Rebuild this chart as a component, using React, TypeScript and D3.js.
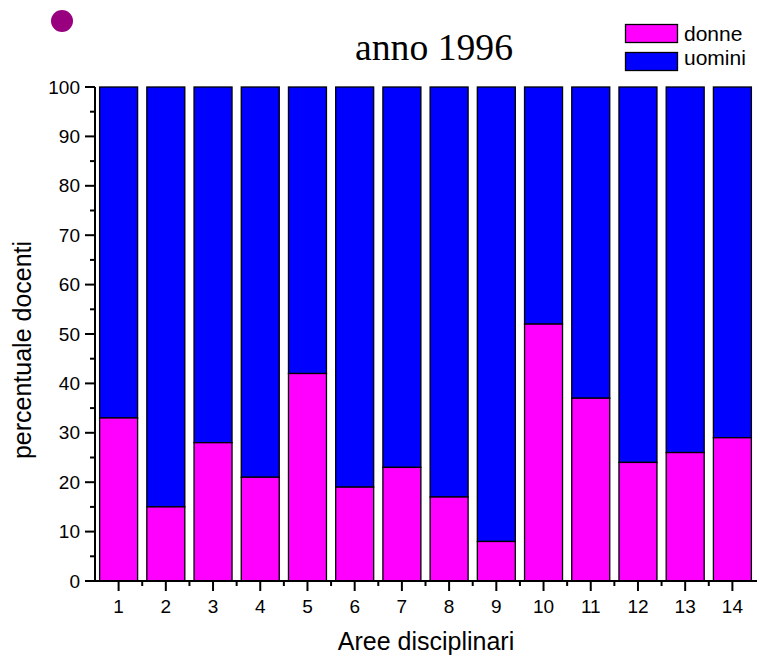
import React from "react";
import * as d3 from "d3";

const categories = [1, 2, 3, 4, 5, 6, 7, 8, 9, 10, 11, 12, 13, 14];
const donne = [33, 15, 28, 21, 42, 19, 23, 17, 8, 52, 37, 24, 26, 29];
const uomini = donne.map((d) => 100 - d);
const yTicks = [0, 10, 20, 30, 40, 50, 60, 70, 80, 90, 100];
const seriesNames = ["donne", "uomini"];
const seriesColors = ["#FF00FF", "#0000FF"];

export default function App() {
  const W = 759, H = 658;
  const x = d3.scaleLinear().domain([0.5, 14.5]).range([95, 756]);
  const y = d3.scaleLinear().domain([0, 100]).range([581, 87]);
  const bw = 38;
  const minorY = d3.range(5, 100, 10);
  const minorX = d3.range(1.5, 14.5, 1);
  const font = "Arial, 'Liberation Sans', sans-serif";
  return (
    <svg width={W} height={H} style={{ position: "absolute", left: 0, top: 0 }}>
      <rect width={W} height={H} fill="#fff" />
      <circle cx={62} cy={21} r={11} fill="#990080" />
      <text x={434} y={60} textAnchor="middle" fontFamily="'Liberation Serif', 'Times New Roman', serif" fontSize={38} textLength={158} lengthAdjust="spacingAndGlyphs">anno 1996</text>
      {seriesNames.map((s, i) => (
        <g key={s}>
          <rect x={625.5} y={24.5 + i * 28} width={52} height={18} fill={seriesColors[i]} stroke="#000" strokeWidth={1.3} />
          <text x={684} y={41 + i * 24} fontFamily={font} fontSize={21}>{s}</text>
        </g>
      ))}
      {categories.map((c, i) => (
        <g key={c}>
          <rect x={x(c) - bw / 2} y={y(100)} width={bw} height={y(donne[i]) - y(100)} fill={seriesColors[1]} stroke="#000" strokeWidth={1.3} />
          <rect x={x(c) - bw / 2} y={y(donne[i])} width={bw} height={y(0) - y(donne[i])} fill={seriesColors[0]} stroke="#000" strokeWidth={1.3} />
        </g>
      ))}
      <line x1={95} x2={95} y1={y(100)} y2={y(0)} stroke="#000" strokeWidth={2} />
      <line x1={94} x2={757} y1={y(0)} y2={y(0)} stroke="#000" strokeWidth={2} />
      {yTicks.map((t) => (
        <g key={t}>
          <line x1={85} x2={95} y1={y(t)} y2={y(t)} stroke="#000" strokeWidth={2} />
          <text x={80} y={y(t) + 6.5} textAnchor="end" fontFamily={font} fontSize={19}>{t}</text>
        </g>
      ))}
      {minorY.map((t) => (
        <line key={t} x1={90} x2={95} y1={y(t)} y2={y(t)} stroke="#000" strokeWidth={2} />
      ))}
      {categories.map((c) => (
        <g key={c}>
          <line x1={x(c)} x2={x(c)} y1={y(0)} y2={y(0) + 10} stroke="#000" strokeWidth={2} />
          <text x={x(c)} y={613} textAnchor="middle" fontFamily={font} fontSize={19}>{c}</text>
        </g>
      ))}
      {minorX.map((t) => (
        <line key={t} x1={x(t)} x2={x(t)} y1={y(0)} y2={y(0) + 5} stroke="#000" strokeWidth={2} />
      ))}
      <text x={426} y={650} textAnchor="middle" fontFamily={font} fontSize={25}>Aree disciplinari</text>
      <text transform={`translate(31,350) rotate(-90)`} textAnchor="middle" fontFamily={font} fontSize={25}>percentuale docenti</text>
    </svg>
  );
}
